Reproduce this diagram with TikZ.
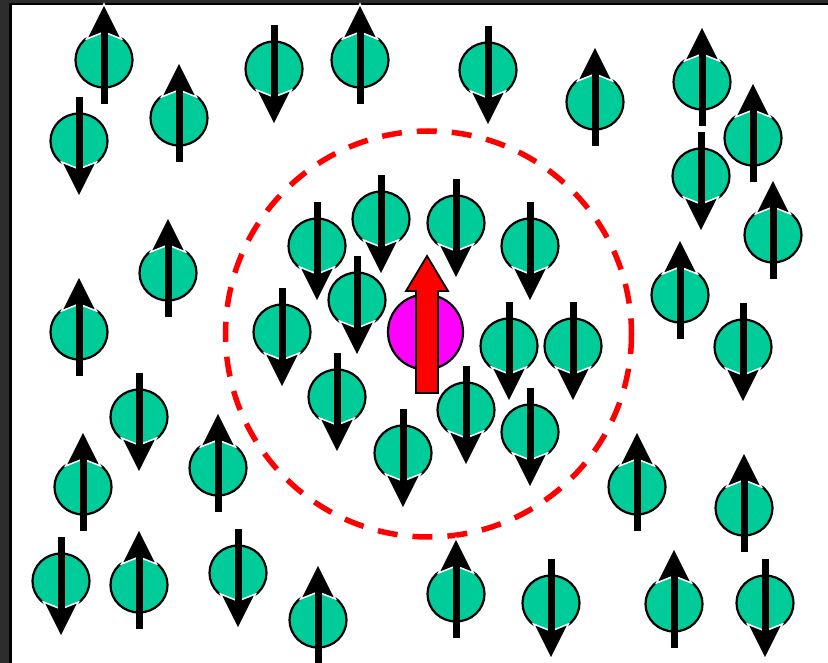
\documentclass[tikz,border=0pt]{standalone}
\usetikzlibrary{calc}
\definecolor{bgdark}{HTML}{2D2D2D}
\definecolor{spinteal}{HTML}{00CC99}
\definecolor{magent}{HTML}{FF00FF}
\tikzset{
  spinball/.style={fill=spinteal, draw=black, line width=2.2pt},
  spinshaft/.style={draw=black, line width=7pt},
  spinhead/.style={fill=black, draw=white, line width=1.5pt, line join=miter},
  pics/spin/.style={code={
    \path[spinball] (0,0) ellipse [x radius=28.5, y radius=27.5];
    \path[spinhead] (0,-56) -- (17.5,-21) -- (0,-28) -- (-17.5,-21) -- cycle;
    \path[spinshaft] (0,44) -- (0,-40);
  }},
  up/.style={},
  dn/.style={yscale=-1},
}
\begin{document}
\begin{tikzpicture}[x=1pt,y=-1pt]
\useasboundingbox (0,0) rectangle (828,663);
\clip (0,0) rectangle (828,663);
\fill[bgdark] (0,0) rectangle (828,663);
\filldraw[fill=white, draw=black, line width=2.5pt] (10.5,4) rectangle (850,690);
% dashed circle
\draw[red, line width=5.5pt, dash pattern=on 20pt off 15pt] (428.5,334) circle [radius=203];
% outer spins
\foreach \x/\y/\d in {104/60/up, 79/141/dn, 179/118/up, 274/69/dn, 360/60/up,
  488/70/dn, 595/102/up, 702/82/up, 753/138/up, 701/176/dn, 773/235/up,
  168/273/up, 79/332/up, 680/295/up, 743/347/dn, 139/417/dn, 83/487/up,
  218/468/up, 637/487/up, 744/508/up, 61/581/dn, 139/585/up, 238/573/dn,
  318/620/up, 456/594/up, 551/603/dn, 674/604/up, 765/603/dn}
  \pic[\d] at (\x,\y) {spin};
% inner spins
\foreach \x/\y/\d in {317/246/dn, 381/219/dn, 456/223/dn, 530/246/dn,
  357/300/dn, 282/332/dn, 509/346/dn, 573/346/dn, 337/397/dn,
  466/410/dn, 530/432/dn, 403/453/dn}
  \pic[\d] at (\x,\y) {spin};
% central impurity
\node[circle, minimum size=75pt, inner sep=0pt, fill=magent, draw=black, line width=2.2pt] (imp) at (425.5,332) {};
\filldraw[fill=red, draw=black, line width=1.8pt, line join=miter]
  (416,393) -- (416,291) -- (406,291) -- (427,256) -- (448,291) -- (438,291) -- (438,393) -- cycle;
\end{tikzpicture}
\end{document}
